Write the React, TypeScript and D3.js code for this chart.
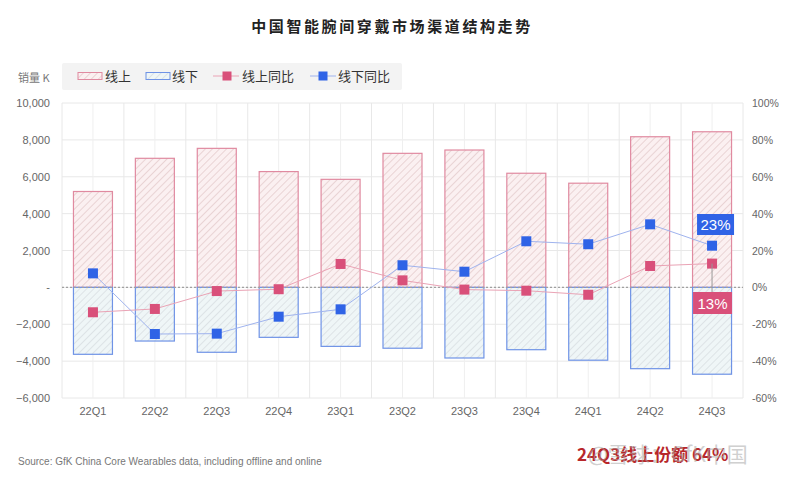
import React from "react";
import * as d3 from "d3";

const categories = ["22Q1","22Q2","22Q3","22Q4","23Q1","23Q2","23Q3","23Q4","24Q1","24Q2","24Q3"];
const onlineVals = [5200, 7000, 7540, 6280, 5860, 7270, 7450, 6190, 5650, 8170, 8440];
const offlineVals = [-3630, -2910, -3520, -2710, -3200, -3300, -3830, -3380, -3950, -4410, -4710];
const onlineYoY = [-13.5, -11.7, -2, -1, 12.7, 3.8, -1.2, -1.8, -4, 11.6, 12.9];
const offlineYoY = [7.6, -25.3, -25.1, -15.9, -11.9, 12, 8.5, 25, 23.4, 34.2, 22.6];
const leftTicks = [10000, 8000, 6000, 4000, 2000, 0, -2000, -4000, -6000];
const rightTicks = [100, 80, 60, 40, 20, 0, -20, -40, -60];
const calloutOffline = "23%";
const calloutOnline = "13%";

const FONT = "'Liberation Sans', 'Noto Sans CJK SC', Arial, sans-serif";
const CJK = "'Noto Sans CJK SC', sans-serif";

export default function App() {
  const W = 800, H = 477;
  const x0 = 62, x1 = 743, yTop = 103, yBot = 398;
  const x = d3.scaleBand<string>().domain(categories).range([x0, x1]).padding(0);
  const yL = d3.scaleLinear().domain([-6000, 10000]).range([yBot, yTop]);
  const yR = d3.scaleLinear().domain([-60, 100]).range([yBot, yTop]);
  const bw = 39;
  const cx = (c: string) => (x(c) as number) + x.bandwidth() / 2;

  const lineGen = d3.line<number>().x((_, i) => cx(categories[i])).y(v => yR(v));
  const leftFmt = (v: number) => (v === 0 ? "-" : d3.format(",")(v));

  const last = categories[categories.length - 1];
  const lx = cx(last);
  const lastOn = onlineYoY[onlineYoY.length - 1];

  return (
    <svg width={W} height={H} style={{ display: "block", position: "absolute", left: 0, top: 0 }}>
      <defs>
        <pattern id="hatchOn" patternUnits="userSpaceOnUse" width="5" height="5" patternTransform="rotate(45)">
          <rect width="5" height="5" fill="#fbf0f1" />
          <line x1="0" y1="0" x2="0" y2="5" stroke="#e0c3c5" strokeWidth="1.3" />
        </pattern>
        <pattern id="hatchOff" patternUnits="userSpaceOnUse" width="5" height="5" patternTransform="rotate(45)">
          <rect width="5" height="5" fill="#eff6f7" />
          <line x1="0" y1="0" x2="0" y2="5" stroke="#d3d9dd" strokeWidth="1.3" />
        </pattern>
      </defs>
      <rect width={W} height={H} fill="#ffffff" />

      {/* Title */}
      <text x={392} y={32} textAnchor="middle" fontFamily={CJK} fontSize={15} fontWeight={700} fill="#222" letterSpacing={2.6}>
        中国智能腕间穿戴市场渠道结构走势
      </text>

      {/* Legend */}
      <text x={18} y={82} fontFamily={CJK} fontSize={11} fill="#777">销量 K</text>
      <rect x={62} y={63} width={340} height={27} fill="#f3f3f3" rx={2} />
      <rect x={78} y={72.5} width={24} height={7} fill="url(#hatchOn)" stroke="#e08aa0" strokeWidth={1} />
      <text x={105} y={81} fontFamily={CJK} fontSize={13} fill="#333">线上</text>
      <rect x={146} y={72.5} width={24} height={7} fill="url(#hatchOff)" stroke="#6f93e6" strokeWidth={1} />
      <text x={172} y={81} fontFamily={CJK} fontSize={13} fill="#333">线下</text>
      <line x1={213} x2={239} y1={76} y2={76} stroke="#eaa3b5" strokeWidth={1} />
      <rect x={222.5} y={71.5} width={9} height={9} fill="#d9507a" />
      <text x={242} y={81} fontFamily={CJK} fontSize={13} fill="#333">线上同比</text>
      <line x1={310} x2={336} y1={76} y2={76} stroke="#9fb3ee" strokeWidth={1} />
      <rect x={318.5} y={71.5} width={9} height={9} fill="#2f63e6" />
      <text x={338} y={81} fontFamily={CJK} fontSize={13} fill="#333">线下同比</text>

      {/* Grid */}
      {leftTicks.map(t => (
        <line key={"h" + t} x1={x0} x2={x1} y1={yL(t)} y2={yL(t)} stroke="#e8e8e8" strokeWidth={1} />
      ))}
      {categories.map(c => (
        <g key={"v" + c}>
          <line x1={x(c) as number} x2={x(c) as number} y1={yTop} y2={yBot} stroke="#e8e8e8" />
          <line x1={cx(c)} x2={cx(c)} y1={yTop} y2={yBot} stroke="#efefef" />
        </g>
      ))}
      <line x1={x1} x2={x1} y1={yTop} y2={yBot} stroke="#e8e8e8" />

      {/* Axis labels */}
      {leftTicks.map(t => (
        <text key={"l" + t} x={50} y={yL(t) + 4} textAnchor="end" fontFamily={FONT} fontSize={11} fill="#666">{leftFmt(t)}</text>
      ))}
      {rightTicks.map(t => (
        <text key={"r" + t} x={752} y={yR(t) + 4} textAnchor="start" fontFamily={FONT} fontSize={10.5} fill="#666">{t + "%"}</text>
      ))}
      {categories.map(c => (
        <text key={"x" + c} x={cx(c)} y={415} textAnchor="middle" fontFamily={FONT} fontSize={11} fill="#666">{c}</text>
      ))}

      {/* Bars */}
      {categories.map((c, i) => (
        <g key={"b" + c}>
          <rect x={cx(c) - bw / 2} y={yL(onlineVals[i])} width={bw} height={yL(0) - yL(onlineVals[i])}
            fill="url(#hatchOn)" stroke="#e08aa0" strokeWidth={1.2} />
          <rect x={cx(c) - bw / 2} y={yL(0)} width={bw} height={yL(offlineVals[i]) - yL(0)}
            fill="url(#hatchOff)" stroke="#6f93e6" strokeWidth={1.2} />
        </g>
      ))}

      {/* Zero line */}
      <line x1={x0} x2={x1} y1={yL(0)} y2={yL(0)} stroke="#a0a0a0" strokeWidth={1.2} strokeDasharray="2,2" />

      {/* Lines */}
      <path d={lineGen(onlineYoY) || ""} fill="none" stroke="#eaa3b5" strokeWidth={1} />
      <path d={lineGen(offlineYoY) || ""} fill="none" stroke="#9fb3ee" strokeWidth={1} />
      {categories.map((c, i) => (
        <rect key={"pm" + c} x={cx(c) - 5} y={yR(onlineYoY[i]) - 5} width={10} height={10} fill="#d9507a" />
      ))}
      {categories.map((c, i) => (
        <rect key={"bm" + c} x={cx(c) - 5} y={yR(offlineYoY[i]) - 5} width={10} height={10} fill="#2f63e6" />
      ))}

      {/* Callouts */}
      <line x1={lx} x2={lx} y1={yR(lastOn)} y2={292} stroke="#999" strokeWidth={1} />
      <rect x={lx - 15} y={214} width={37} height={21} fill="#2f63e6" />
      <text x={lx + 3.5} y={230} textAnchor="middle" fontFamily={FONT} fontSize={15} fill="#fff">{calloutOffline}</text>
      <rect x={lx - 19} y={292} width={39} height={22} fill="#d9507a" />
      <text x={lx + 0.5} y={308.5} textAnchor="middle" fontFamily={FONT} fontSize={15} fill="#fff">{calloutOnline}</text>

      {/* Footer */}
      <text x={18} y={465} fontFamily={FONT} fontSize={10} fill="#777">Source: GfK China Core Wearables data, including offline and online</text>
      <text x={577} y={461} fontFamily={CJK} fontSize={17} fontWeight={700} fill="#b8272a">24Q3线上份额 64%</text>
      <text x={588} y={462} fontFamily={CJK} fontSize={21} fill="#aaaaaa" opacity={0.55}>@雪球：GfK中国</text>
    </svg>
  );
}
